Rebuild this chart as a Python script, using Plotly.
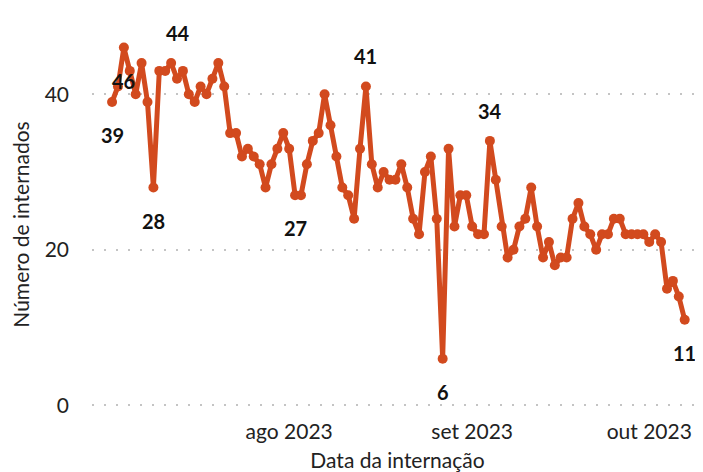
import pandas as pd
import plotly.graph_objects as go

start_date = "2023-07-02"
internados = [39, 41, 46, 43, 40, 44, 39, 28, 43, 43, 44, 42, 43, 40, 39, 41, 40, 42, 44, 41,
              35, 35, 32, 33, 32, 31, 28, 31, 33, 35, 33, 27, 27, 31, 34, 35, 40, 36, 32, 28,
              27, 24, 33, 41, 31, 28, 30, 29, 29, 31, 28, 24, 22, 30, 32, 24, 6, 33, 23, 27,
              27, 23, 22, 22, 34, 29, 23, 19, 20, 23, 24, 28, 23, 19, 21, 18, 19, 19, 24, 26,
              23, 22, 20, 22, 22, 24, 24, 22, 22, 22, 22, 21, 22, 21, 15, 16, 14, 11]
dates = pd.date_range(start_date, periods=len(internados), freq="D")

label_dates = ["2023-07-02", "2023-07-04", "2023-07-09", "2023-07-12", "2023-08-02",
               "2023-08-14", "2023-08-27", "2023-09-04", "2023-10-07"]
label_values = [39, 46, 28, 44, 27, 41, 6, 34, 11]
label_above = [False, False, False, True, False, True, False, True, False]

tick_vals = ["2023-08-01", "2023-09-01", "2023-10-01"]
tick_text = ["ago 2023", "set 2023", "out 2023"]
y_ticks = [0, 20, 40]

color = "#D24A1E"
font_family = "Lato, 'Open Sans', sans-serif"

fig = go.Figure()
fig.add_trace(go.Scatter(
    x=dates, y=internados, mode="lines+markers",
    line=dict(color=color, width=5),
    marker=dict(color=color, size=10),
    hoverinfo="x+y", showlegend=False,
))

for d, v, up in zip(label_dates, label_values, label_above):
    fig.add_annotation(
        x=d, y=v, text=f"<b>{v}</b>", showarrow=False,
        yshift=30 if up else -33, xshift=7 if v == 44 else 0,
        font=dict(size=20, color="#111111", family=font_family),
    )

x0 = pd.Timestamp(start_date) - pd.Timedelta(hours=3.4 * 24)
x1 = dates[-1] + pd.Timedelta(hours=3.1 * 24)

# page body has an 8px margin; figure sized so the plot lands where the reference has it
fig.update_layout(
    width=695, height=464,
    margin=dict(l=84, r=0, t=24, b=55),
    plot_bgcolor="white", paper_bgcolor="white",
    font=dict(family=font_family, size=21, color="#222222"),
    xaxis=dict(
        range=[x0, x1], tickvals=tick_vals, ticktext=tick_text,
        showgrid=False, zeroline=False, showline=False, ticks="",
        tickfont=dict(size=21, color="#222222"),
        title=dict(text="Data da internação", standoff=14, font=dict(size=21)),
        automargin=False,
    ),
    yaxis=dict(
        range=[-1.5, 48], tickvals=y_ticks,
        showgrid=True, gridcolor="#C4C4C4", gridwidth=1.5, griddash="2px,10px",
        zeroline=False, showline=False, ticks="",
        tickfont=dict(size=21, color="#222222"),
        ticklabelstandoff=22,
        title=dict(text="Número de internados", standoff=22, font=dict(size=21)),
        automargin=False,
    ),
)

fig.write_html("out.html")
